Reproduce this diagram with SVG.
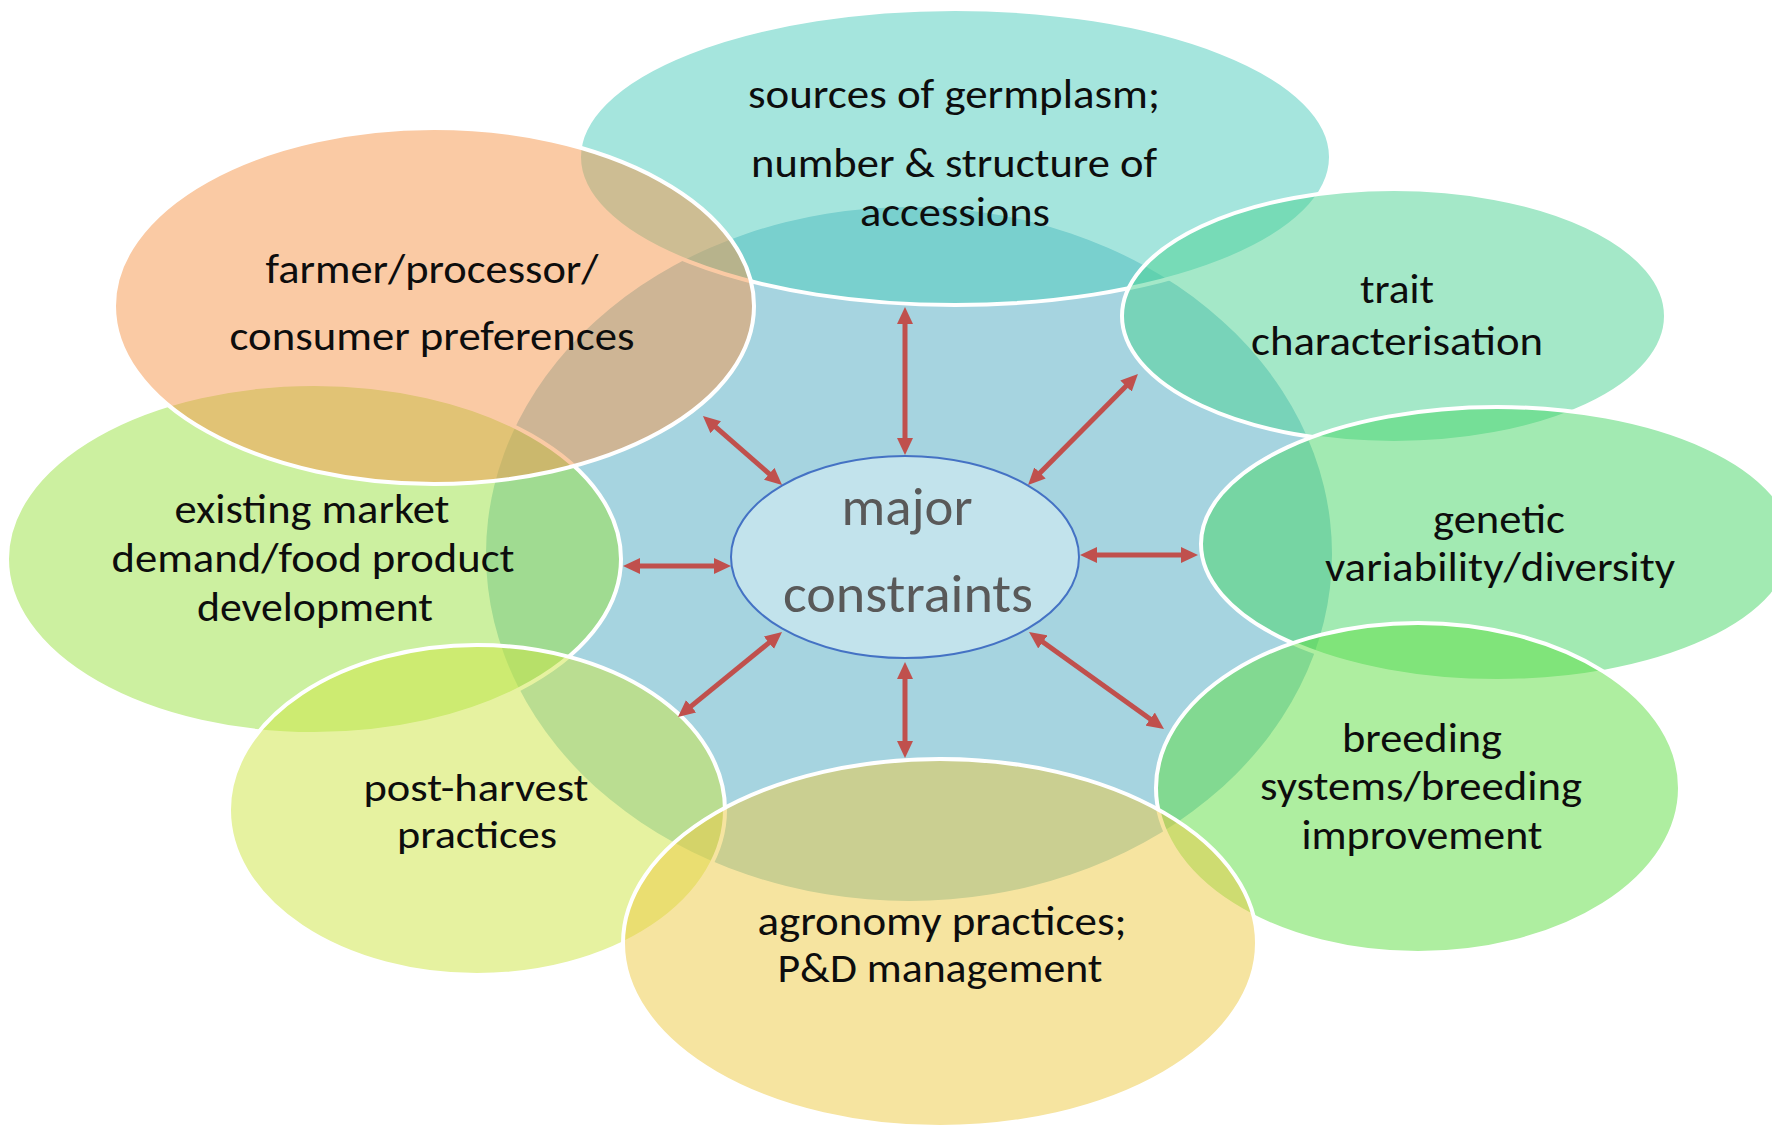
<svg xmlns="http://www.w3.org/2000/svg" width="1772" height="1127" viewBox="0 0 1772 1127">
  <defs>
    <marker id="head" viewBox="0 0 17 16" markerUnits="userSpaceOnUse" markerWidth="17" markerHeight="16" refX="3" refY="8" orient="auto-start-reverse">
      <path d="M0,0 L17,8 L0,16 z" fill="#c0504d"/>
    </marker>
  </defs>
  <style>
    .petal { stroke: #ffffff; stroke-width: 4; fill-opacity: 0.5; }
    .lbl { font-family: Carlito, Lato, "Liberation Sans", sans-serif; font-size: 40px; fill: #0d0d0d; text-anchor: middle; }
    .sm { font-size: 38px; }
    .hub { font-family: Carlito, Lato, "Liberation Sans", sans-serif; font-size: 54px; fill: #595959; text-anchor: middle; }
    .link { stroke: #c0504d; stroke-width: 5; fill: none; marker-start: url(#head); marker-end: url(#head); }
  </style>

  <rect x="0" y="0" width="1772" height="1127" fill="#ffffff"/>

  <!-- backdrop disc behind the hub -->
  <g id="backdrop">
    <ellipse cx="909" cy="554" rx="423" ry="347" fill="#a6d4e0"/>
  </g>

  <g id="germplasm">
    <ellipse class="petal" cx="955" cy="157" rx="376" ry="148" fill="#4bcbbb"/>
    <text class="lbl" x="954" y="108" textLength="412" lengthAdjust="spacingAndGlyphs">sources of germplasm;</text>
    <text class="lbl" x="954" y="177" textLength="406" lengthAdjust="spacingAndGlyphs">number &amp; structure of</text>
    <text class="lbl" x="955" y="226" textLength="190" lengthAdjust="spacingAndGlyphs">accessions</text>
  </g>

  <g id="trait">
    <ellipse class="petal" cx="1394" cy="316" rx="272" ry="127" fill="#49d191"/>
    <text class="lbl" x="1397" y="303" textLength="74" lengthAdjust="spacingAndGlyphs">trait</text>
    <text class="lbl" x="1397" y="355" textLength="292" lengthAdjust="spacingAndGlyphs">characterisation</text>
  </g>

  <g id="genetic">
    <ellipse class="petal" cx="1497" cy="544" rx="296" ry="137" fill="#45d565"/>
    <text class="lbl" x="1499" y="533" textLength="132" lengthAdjust="spacingAndGlyphs">genetic</text>
    <text class="lbl" x="1500" y="581" textLength="350" lengthAdjust="spacingAndGlyphs">variability/diversity</text>
  </g>

  <g id="breeding">
    <ellipse class="petal" cx="1418" cy="788" rx="262" ry="165" fill="#5ddd41"/>
    <text class="lbl" x="1422" y="752" textLength="160" lengthAdjust="spacingAndGlyphs">breeding</text>
    <text class="lbl" x="1421" y="800" textLength="322" lengthAdjust="spacingAndGlyphs">systems/breeding</text>
    <text class="lbl" x="1422" y="849" textLength="241" lengthAdjust="spacingAndGlyphs">improvement</text>
  </g>

  <g id="market">
    <ellipse class="petal" cx="314" cy="559" rx="307" ry="175" fill="#99e141"/>
    <text class="lbl" x="312" y="523" textLength="275" lengthAdjust="spacingAndGlyphs">existing market</text>
    <text class="lbl" x="313" y="572" textLength="403" lengthAdjust="spacingAndGlyphs">demand/food product</text>
    <text class="lbl" x="315" y="621" textLength="236" lengthAdjust="spacingAndGlyphs">development</text>
  </g>

  <g id="postharvest">
    <ellipse class="petal" cx="477" cy="810" rx="248" ry="165" fill="#cde541"/>
    <text class="lbl sm" x="476" y="801" textLength="225" lengthAdjust="spacingAndGlyphs">post-harvest</text>
    <text class="lbl sm" x="477" y="848" textLength="160" lengthAdjust="spacingAndGlyphs">practices</text>
  </g>

  <g id="agronomy">
    <ellipse class="petal" cx="940" cy="943" rx="317" ry="184" fill="#edc941"/>
    <text class="lbl" x="942" y="935" textLength="369" lengthAdjust="spacingAndGlyphs">agronomy practices;</text>
    <text class="lbl" x="940" y="982" textLength="325" lengthAdjust="spacingAndGlyphs">P&amp;D management</text>
  </g>

  <g id="preferences">
    <ellipse class="petal" cx="434" cy="306" rx="320" ry="178" fill="#f5954a"/>
    <text class="lbl" x="432" y="283" textLength="333" lengthAdjust="spacingAndGlyphs">farmer/processor/</text>
    <text class="lbl" x="432" y="350" textLength="405" lengthAdjust="spacingAndGlyphs">consumer preferences</text>
  </g>

  <!-- two-way links between the hub and each factor -->
  <g id="connectors">
    <line class="link" x1="905" y1="321" x2="905" y2="441"/>
    <line class="link" x1="905" y1="676" x2="905" y2="744"/>
    <line class="link" x1="637" y1="566" x2="717" y2="566"/>
    <line class="link" x1="1094" y1="555" x2="1184" y2="555"/>
    <line class="link" x1="713.5" y1="425.2" x2="771.5" y2="475.8"/>
    <line class="link" x1="1128.1" y1="383.9" x2="1037.9" y2="475.1"/>
    <line class="link" x1="771.2" y1="640.9" x2="688.8" y2="708.1"/>
    <line class="link" x1="1040.4" y1="640.2" x2="1152.6" y2="720.8"/>
  </g>

  <g id="hub">
    <ellipse cx="905" cy="557" rx="174" ry="101" fill="#c2e3ec" stroke="#4472c4" stroke-width="2"/>
    <text class="hub" x="907" y="525" textLength="131" lengthAdjust="spacingAndGlyphs">major</text>
    <text class="hub" x="908" y="612" textLength="250" lengthAdjust="spacingAndGlyphs">constraints</text>
  </g>
</svg>
